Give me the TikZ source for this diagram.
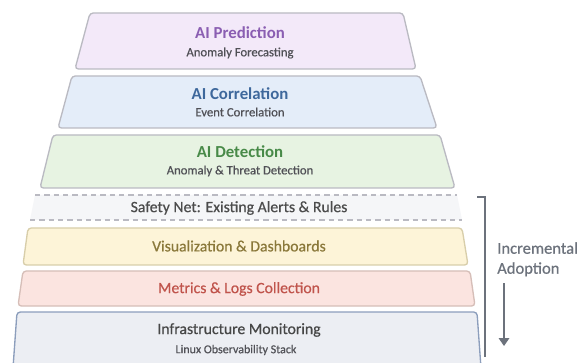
\documentclass[tikz,border=0pt]{standalone}
\usepackage{fontspec}
\setmainfont{Carlito}
\usetikzlibrary{arrows.meta}

\definecolor{edgegray}{RGB}{186,186,194}
\definecolor{predfill}{RGB}{243,233,249}
\definecolor{predtext}{RGB}{138,94,178}
\definecolor{corrfill}{RGB}{228,237,249}
\definecolor{corrtext}{RGB}{62,104,156}
\definecolor{detfill}{RGB}{231,243,226}
\definecolor{dettext}{RGB}{72,138,72}
\definecolor{netfill}{RGB}{245,246,248}
\definecolor{visfill}{RGB}{253,244,216}
\definecolor{visedge}{RGB}{216,206,170}
\definecolor{vistext}{RGB}{138,120,58}
\definecolor{metfill}{RGB}{251,228,224}
\definecolor{metedge}{RGB}{214,190,184}
\definecolor{mettext}{RGB}{192,84,76}
\definecolor{infrafill}{RGB}{236,238,243}
\definecolor{infraedge}{RGB}{140,158,188}
\definecolor{subgray}{RGB}{80,80,86}
\definecolor{sidegray}{RGB}{108,114,124}

\begin{document}
\begin{tikzpicture}[x=0.75pt,y=0.75pt,yscale=-1,xscale=1,
    layer/.style={draw=edgegray, line width=1pt, rounded corners=2.5pt},
    headtxt/.style={inner sep=0.75pt, font=\fontsize{12.6}{14}\selectfont\bfseries},
    subtxt/.style={inner sep=0.75pt, text=subgray, font=\fontsize{9.5}{11}\selectfont\addfontfeature{FakeBold=0.5}},
    bandtxt/.style={inner sep=0.75pt, font=\fontsize{11.8}{13}\selectfont\addfontfeature{FakeBold=0.6}}]
\useasboundingbox (0,0) rectangle (585,363);
\fill [white] (0,0) rectangle (585,363);

%Layers
\draw [layer, fill=predfill] (90,13) -- (403,13) -- (416,69) -- (75,69) -- cycle ;
\draw [layer, fill=corrfill] (72,76) -- (420,76) -- (437,128) -- (58,128) -- cycle ;
\draw [layer, fill=detfill] (53,135) -- (440,135) -- (455,188) -- (40,188) -- cycle ;
\fill [netfill] (35,195) -- (457,195) -- (462,220) -- (30,220) -- cycle ;
\draw [edgegray, line width=1pt, dash pattern=on 4pt off 3pt] (35,195) -- (457,195) ;
\draw [edgegray, line width=1pt, dash pattern=on 4pt off 3pt] (30,220) -- (462,220) ;
\draw [layer, draw=visedge, fill=visfill] (28,228) -- (462,228) -- (468,265) -- (23,265) -- cycle ;
\draw [layer, draw=metedge, fill=metfill] (23,271) -- (470,271) -- (475,306) -- (18,306) -- cycle ;
\draw [layer, draw=infraedge, fill=infrafill] (17,312) -- (477,312) -- (481,368) -- (13,368) -- cycle ;

% Text Node
\node [headtxt, text=predtext] (predT) at (240,33) {AI Prediction};
\node [subtxt] (predS) at (240,53) {Anomaly Forecasting};
\node [headtxt, text=corrtext] (corrT) at (240,94) {AI Correlation};
\node [subtxt] (corrS) at (240,112) {Event Correlation};
\node [headtxt, text=dettext] (detT) at (240,152) {AI Detection};
\node [subtxt] (detS) at (240,171) {Anomaly \& Threat Detection};
\node [bandtxt, text=black!70] (netT) at (239,208) {Safety Net: Existing Alerts \& Rules};
\node [bandtxt, text=vistext] (visT) at (239,246) {Visualization \& Dashboards};
\node [bandtxt, text=mettext] (metT) at (239,289) {Metrics \& Logs Collection};
\node [bandtxt, text=black!72] (infraT) at (239,330) {Infrastructure Monitoring};
\node [subtxt, font=\fontsize{9}{10}\selectfont\addfontfeature{FakeBold=0.5}] (infraS) at (236,350) {Linux Observability Stack};

%Side bracket and arrow
\coordinate (brTop) at (477,197) ;
\coordinate (brBot) at (485,357) ;
\draw [sidegray, line width=1pt] (brTop) -- (brTop -| brBot) -- (brBot) ;
\node [inner sep=0.75pt, anchor=north west, align=left, text=sidegray, font=\fontsize{12.4}{15}\selectfont\addfontfeature{FakeBold=0.5}] (adoptT) at (496,241) {Incremental\\Adoption};
\coordinate (arStart) at (504,283) ;
\coordinate (arEnd) at (504,346) ;
\draw [sidegray, line width=1pt, -{Triangle[width=8pt,length=6pt]}] (arStart) -- (arEnd) ;
\end{tikzpicture}
\end{document}
